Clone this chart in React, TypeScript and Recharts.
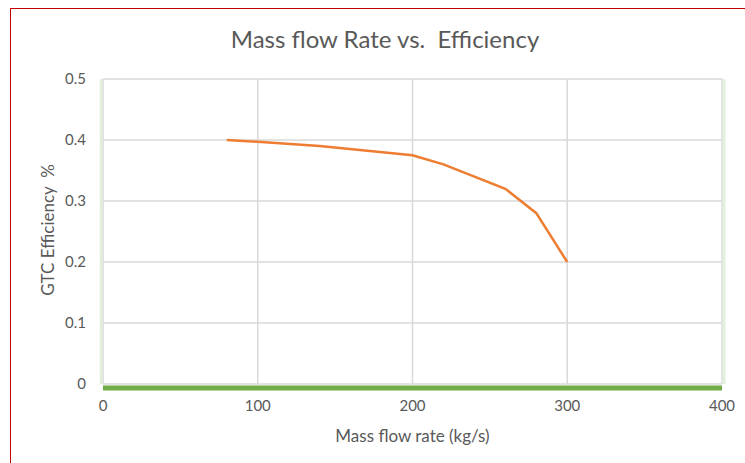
import { LineChart, Line, XAxis, YAxis, CartesianGrid, ReferenceLine } from 'recharts'

const massFlow = [80, 100, 140, 200, 220, 260, 280, 300]
const efficiency = [0.4, 0.397, 0.39, 0.375, 0.36, 0.32, 0.28, 0.2]
const xTicks = [0, 100, 200, 300, 400]
const yTicks = [0, 0.1, 0.2, 0.3, 0.4, 0.5]

const chartData = massFlow.map((x, i) => ({ x, y: efficiency[i] }))

const font = 'Lato, "Open Sans", sans-serif'
const textGray = '#595959'

export default function App() {
  return (
    <div
      style={{
        position: 'absolute',
        left: 0,
        top: 0,
        width: 745,
        height: 463,
        background: '#fff',
        overflow: 'hidden',
        fontFamily: font,
      }}
    >
      {/* red frame, only top and left visible */}
      <div
        style={{
          position: 'absolute',
          left: 10,
          top: 8,
          width: 760,
          height: 480,
          borderTop: '1.5px solid #c00000',
          borderLeft: '1.5px solid #c00000',
        }}
      />
      <div
        style={{
          position: 'absolute',
          left: 0,
          width: 770,
          top: 24,
          textAlign: 'center',
          fontSize: 24,
          color: textGray,
        }}
      >
        Mass flow Rate vs.&nbsp; Efficiency
      </div>
      <div
        style={{
          position: 'absolute',
          left: 47,
          top: 230,
          transform: 'translate(-50%, -50%) rotate(-90deg)',
          whiteSpace: 'nowrap',
          fontSize: 17,
          color: textGray,
        }}
      >
        GTC Efficiency&nbsp; %
      </div>
      <div
        style={{
          position: 'absolute',
          left: 0,
          width: 825,
          top: 425,
          textAlign: 'center',
          fontSize: 17,
          color: textGray,
        }}
      >
        Mass flow rate (kg/s)
      </div>
      <div style={{ position: 'absolute', left: 0, top: 0 }}>
        <LineChart
          width={745}
          height={463}
          data={chartData}
          margin={{ top: 79, right: 23, bottom: 49, left: 43 }}
        >
          <CartesianGrid stroke="#d9d9d9" strokeWidth={1.5} />
          <XAxis
            dataKey="x"
            type="number"
            domain={[0, 400]}
            ticks={xTicks}
            height={30}
            tickLine={false}
            tickMargin={10}
            axisLine={{ stroke: '#70ad47', strokeWidth: 5, transform: 'translate(0,4)' }}
            tick={{ fill: textGray, fontSize: 15, fontFamily: font }}
          />
          <YAxis
            type="number"
            domain={[0, 0.5]}
            ticks={yTicks}
            width={60}
            tickLine={false}
            tickMargin={11}
            axisLine={{ stroke: '#e2efda', strokeWidth: 2.5, transform: 'translate(-2,0)' }}
            tick={{ fill: textGray, fontSize: 15, fontFamily: font }}
          />
          <ReferenceLine x={400} stroke="#e2efda" strokeWidth={3} transform="translate(2,0)" />
          <Line
            dataKey="y"
            stroke="#ed7d31"
            strokeWidth={2.5}
            dot={false}
            isAnimationActive={false}
          />
        </LineChart>
      </div>
    </div>
  )
}
